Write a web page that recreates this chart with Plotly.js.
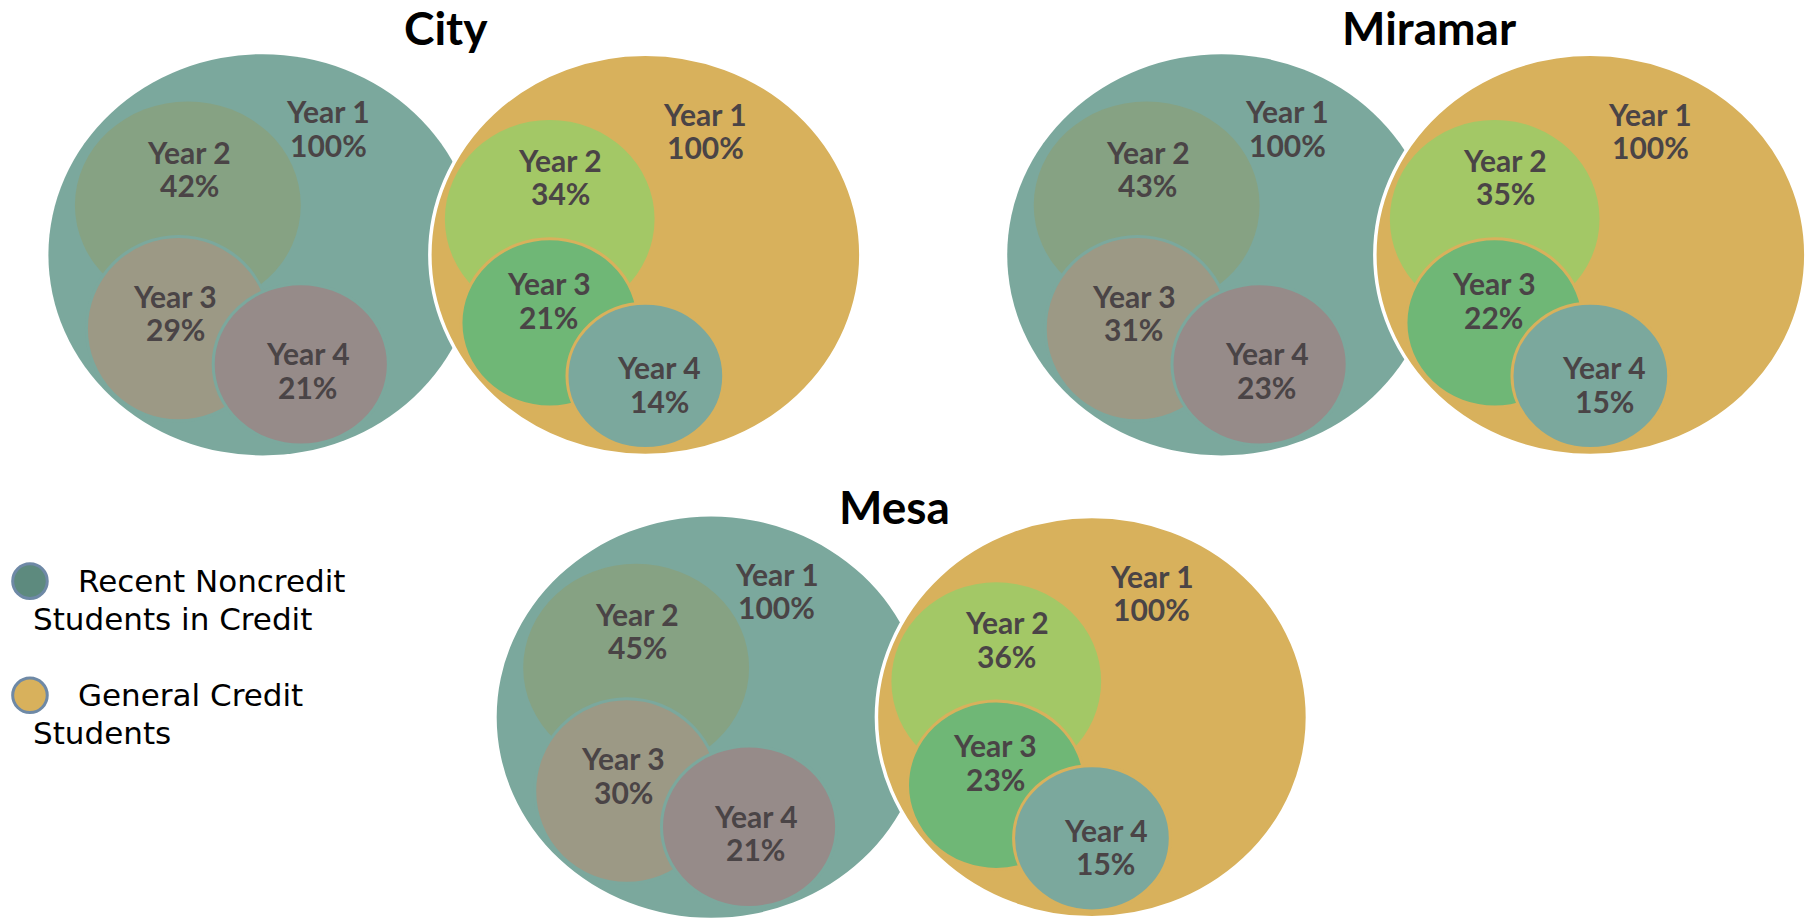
<!DOCTYPE html>
<html>
<head>
<meta charset="utf-8">
<script src="https://cdn.plot.ly/plotly-3.0.1.min.js"></script>
<style>html,body{margin:0;padding:0;background:#fff;}#chart{width:1807px;height:919px;}</style>
</head>
<body>
<div id="chart"></div>
<script>
// ---------- DATA ----------
const campuses = ['City', 'Miramar', 'Mesa'];
const years = ['Year 1', 'Year 2', 'Year 3', 'Year 4'];
const seriesNames = ['Recent Noncredit Students in Credit', 'General Credit Students'];
const cityNoncredit = [100, 42, 29, 21];
const cityGeneral = [100, 34, 21, 14];
const miramarNoncredit = [100, 43, 31, 23];
const miramarGeneral = [100, 35, 22, 15];
const mesaNoncredit = [100, 45, 30, 21];
const mesaGeneral = [100, 36, 23, 15];

// ---------- LAYOUT / STYLE ----------
const noncreditByCampus = [cityNoncredit, miramarNoncredit, mesaNoncredit];
const generalByCampus = [cityGeneral, miramarGeneral, mesaGeneral];

// group anchors (axis units)
const groupPos = [
  {nc: 228, gc: 560, cy: 221, tx: 387, ty: 24},
  {nc: 1060, gc: 1380, cy: 221, tx: 1240, ty: 24},
  {nc: 617, gc: 947.5, cy: 622, tx: 776, ty: 439}
];
const bigR = {rx: 186, ry: 174};
const ncInner = [{dx: -65, dy: -43, rx: 98, ry: 90}, {dx: -73, dy: 64, rx: 80, ry: 80}, {dx: 33, dy: 95, rx: 76, ry: 70}];
const gcInner = [{dx: -83, dy: -31, rx: 91, ry: 86}, {dx: -83, dy: 59, rx: 77, ry: 73}, {dx: 0, dy: 105, rx: 68, ry: 63}];
const ncLabelOff = [[57, -110], [-64, -75], [-76, 50], [39, 100]];
const gcLabelOff = [[52, -108], [-74, -68], [-84, 39], [12, 112]];
const lineGap = 29;

const teal = '#7ba89d', gold = '#d8b15c';
const ncColors = [teal, '#86a283', '#9c9985', '#968b89'];
const gcColors = [gold, '#a3c866', '#6fb776', '#7ba89d'];
const labelColor = '#4a4446';
const labelFont = {family: 'Lato, "Open Sans", sans-serif', size: 30, color: labelColor, weight: 900};

function ellipse(cx, cy, rx, ry, fill, lineColor, lineWidth) {
  return {type: 'circle', xref: 'x', yref: 'y', x0: cx - rx, x1: cx + rx, y0: cy - ry, y1: cy + ry,
    fillcolor: fill, line: {color: lineColor || 'rgba(0,0,0,0)', width: lineWidth || 0}, layer: 'above'};
}

const shapes = [];
const annotations = [];

function addLabel(x, y, line1, line2) {
  annotations.push({xref: 'x', yref: 'y', x: x, y: y - lineGap / 2, text: '<b>' + line1 + '</b>', showarrow: false, font: labelFont, yanchor: 'middle'});
  annotations.push({xref: 'x', yref: 'y', x: x, y: y + lineGap / 2, text: '<b>' + line2 + '</b>', showarrow: false, font: labelFont, yanchor: 'middle'});
}

campuses.forEach((name, i) => {
  const g = groupPos[i];
  shapes.push(ellipse(g.nc, g.cy, bigR.rx, bigR.ry, ncColors[0]));
  shapes.push(ellipse(g.gc, g.cy, bigR.rx + 1, bigR.ry, gcColors[0], '#ffffff', 3.5));
  ncInner.forEach((c, k) => {
    shapes.push(ellipse(g.nc + c.dx, g.cy + c.dy, c.rx, c.ry, ncColors[k + 1], k > 0 ? teal : null, k > 0 ? 3 : 0));
  });
  gcInner.forEach((c, k) => {
    shapes.push(ellipse(g.gc + c.dx, g.cy + c.dy, c.rx, c.ry, gcColors[k + 1], k > 0 ? gold : null, k > 0 ? 3 : 0));
  });
  years.forEach((y, k) => {
    addLabel(g.nc + ncLabelOff[k][0], g.cy + ncLabelOff[k][1], y, noncreditByCampus[i][k] + '%');
    addLabel(g.gc + gcLabelOff[k][0], g.cy + gcLabelOff[k][1], y, generalByCampus[i][k] + '%');
  });
  annotations.push({xref: 'x', yref: 'y', x: g.tx, y: g.ty, text: '<b>' + name + '</b>', showarrow: false,
    font: {family: 'Lato, "Open Sans", sans-serif', size: 46, color: '#000000', weight: 900}});
});

// legend (custom)
const legendMarkers = ['#5d8a7e', '#d8b15c'];
const legendY = [504, 603];
const legendFont = {family: '"DejaVu Sans", Verdana, sans-serif', size: 31, color: '#000000'};
seriesNames.forEach((s, k) => {
  shapes.push(ellipse(26, legendY[k], 15, 15, legendMarkers[k], '#6e89a6', 3));
  const line1 = k === 0 ? 'Recent Noncredit' : 'General Credit';
  const line2 = s.slice(line1.length + 1);
  annotations.push({xref: 'x', yref: 'y', x: 66, y: legendY[k], text: line1, showarrow: false, xanchor: 'left', yanchor: 'middle', font: legendFont});
  annotations.push({xref: 'x', yref: 'y', x: 27, y: legendY[k] + 33, text: line2, showarrow: false, xanchor: 'left', yanchor: 'middle', font: legendFont});
});

const data = [{type: 'scatter', x: [], y: [], mode: 'markers', hoverinfo: 'skip', showlegend: false}];

const layout = {
  width: 1807, height: 919,
  margin: {l: 0, r: 0, t: 0, b: 0, pad: 0},
  paper_bgcolor: '#ffffff', plot_bgcolor: '#ffffff',
  showlegend: false,
  xaxis: {range: [0, 1568], visible: false, fixedrange: true, showgrid: false, zeroline: false},
  yaxis: {range: [797, 0], visible: false, fixedrange: true, showgrid: false, zeroline: false},
  shapes: shapes,
  annotations: annotations
};

Plotly.newPlot('chart', data, layout, {staticPlot: true, displayModeBar: false});
</script>
</body>
</html>
